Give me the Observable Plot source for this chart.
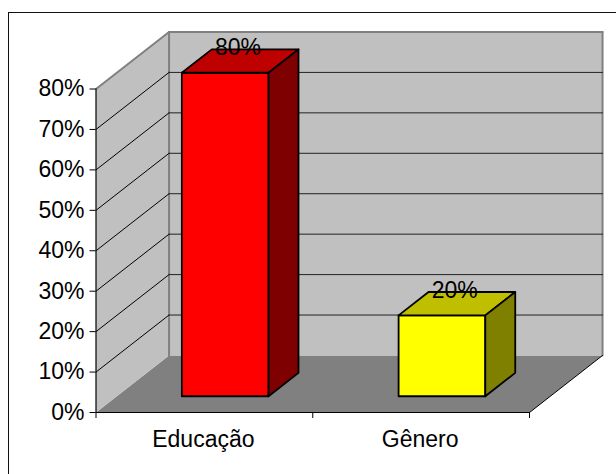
<!DOCTYPE html>
<html>
<head>
<meta charset="utf-8">
<script src="https://cdn.jsdelivr.net/npm/d3@7"></script>
<script src="https://cdn.jsdelivr.net/npm/@observablehq/plot@0.6"></script>
<style>
  html, body { margin: 0; padding: 0; background: #fff; overflow: hidden; }
  #chart { position: relative; width: 616px; height: 474px; overflow: hidden; }
  #chart svg { display: block; background: transparent; position: relative; }
  #border { position: absolute; left: 7.5px; top: 11.5px; width: 700px; height: 600px; border: 1.5px solid #111; box-sizing: border-box; }
</style>
</head>
<body>
<div id="chart"><div id="border"></div></div>
<script>
// Survey shares per theme
const categories = ["Educação", "Gênero"];
const shares = [80, 20];
const frontColors = ["#ff0000", "#ffff00"];
const topColors = ["#bf0000", "#bfbf00"];
const sideColors = ["#7f0000", "#7f7f00"];
const percentTicks = [0, 10, 20, 30, 40, 50, 60, 70, 80];

// Oblique projection: one unit of depth shifts a point right and up on the page.
const depthX = 0.337;
const depthY = 14.1;
const barWidth = 0.4;
const barNear = 0.285;
const barFar = 0.695;

const project = ([c, v, d]) => ({x: c + d * depthX, y: v + d * depthY});
const loop = (corners) => [...corners, corners[0]].map(project);

const face = (corners, fill, stroke, strokeWidth = 1.8) =>
  Plot.line(loop(corners), {x: "x", y: "y", fill, stroke, strokeWidth, curve: "linear"});
const edge = (from, to, stroke, strokeWidth) =>
  Plot.line([from, to].map(project), {x: "x", y: "y", stroke, strokeWidth});

const top80 = percentTicks[percentTicks.length - 1];
const gridTicks = percentTicks.slice(1, -1);

const chamber = [
  face([[0, 0, 0], [2, 0, 0], [2, 0, 1], [0, 0, 1]], "#808080", "none"),
  face([[0, 0, 1], [2, 0, 1], [2, top80, 1], [0, top80, 1]], "#c0c0c0", "none"),
  face([[0, 0, 0], [0, 0, 1], [0, top80, 1], [0, top80, 0]], "#c0c0c0", "none"),
  edge([0, 0, 1], [0, top80, 1], "#808080", 2),
  edge([2, 0, 1], [2, top80, 1], "#808080", 2),
  edge([0, top80, 0], [0, top80, 1], "#808080", 2),
  edge([0, top80, 1], [2, top80, 1], "#808080", 2),
  ...gridTicks.flatMap((v) => [
    edge([0, v, 0], [0, v, 1], "#000", 1),
    edge([0, v, 1], [2, v, 1], "#222", 1)
  ]),
  edge([2, 0, 0], [2, 0, 1], "#000", 1)
];

const bars = categories.flatMap((name, i) => {
  const left = i + (1 - barWidth) / 2;
  const right = left + barWidth;
  const v = shares[i];
  return [
    face([[left, 0, barNear], [right, 0, barNear], [right, v, barNear], [left, v, barNear]], frontColors[i], "#000"),
    face([[left, v, barNear], [right, v, barNear], [right, v, barFar], [left, v, barFar]], topColors[i], "#000"),
    face([[right, 0, barNear], [right, 0, barFar], [right, v, barFar], [right, v, barNear]], sideColors[i], "#000")
  ];
});

const labelRows = categories.map((name, i) => ({
  ...project([i + 0.5, shares[i], 0.46]),
  text: `${shares[i]}%`
}));

const font = {fontFamily: "Liberation Sans, Arial, sans-serif", fontSize: 23};

const chart = Plot.plot({
  width: 616,
  height: 474,
  marginLeft: 95.5,
  marginRight: 87,
  marginTop: 88.5,
  marginBottom: 62,
  style: {background: "transparent", ...font, color: "#000"},
  x: {type: "linear", domain: [0, 2]},
  y: {domain: [0, top80]},
  marks: [
    ...chamber,
    ...bars,
    Plot.text(labelRows, {x: "x", y: "y", text: "text", dy: -15, fill: "#000", ...font}),
    Plot.ruleY([0], {stroke: "#000", strokeWidth: 1.2}),
    Plot.ruleX([0], {y1: 0, y2: top80, stroke: "#000", strokeWidth: 1.2}),
    Plot.axisY({
      ticks: percentTicks,
      tickFormat: (d) => `${d}%`,
      tickSize: 6,
      tickPadding: 5.5,
      tickStroke: "#000",
      label: null,
      fill: "#000",
      ...font
    }),
    Plot.axisX({
      ticks: [0, 1, 2],
      tickSize: 6,
      tickFormat: () => "",
      label: null
    }),
    Plot.axisX({
      ticks: categories.map((_, i) => i + 0.5),
      tickSize: 0,
      tickPadding: 18,
      dx: -1,
      tickFormat: (d) => categories[Math.floor(d)],
      label: null,
      fill: "#000",
      ...font
    })
  ]
});
document.getElementById("chart").appendChild(chart);
</script>
</body>
</html>
